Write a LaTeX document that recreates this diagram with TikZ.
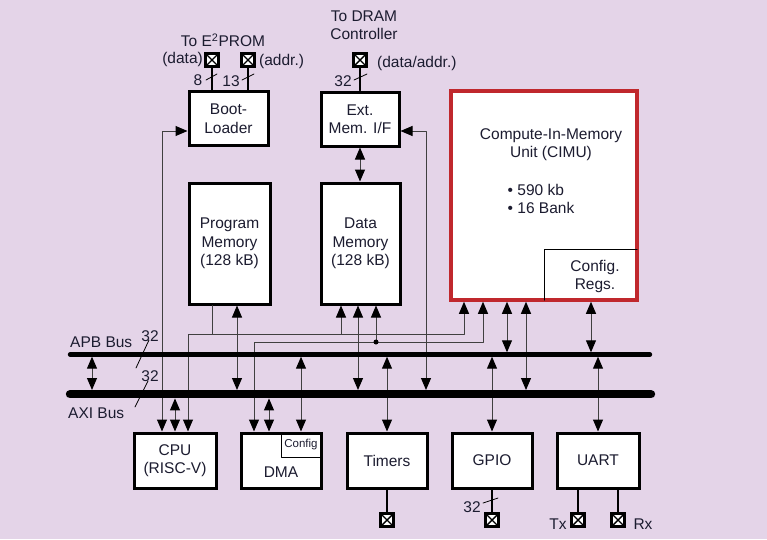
\documentclass[tikz,border=0pt]{standalone}
\usepackage{fontspec}
\setmainfont{Liberation Sans}
\usetikzlibrary{arrows.meta}
\definecolor{bgpurple}{RGB}{228,212,232}
\definecolor{cimured}{RGB}{192,40,45}
\definecolor{inkblue}{RGB}{28,28,48}

\begin{document}
\begin{tikzpicture}[x=1pt, y=-1pt, line cap=round, line join=round]
  \tikzset{
    block/.style={draw=black, line width=3pt, line join=miter, fill=white, inner sep=0pt, align=center, text=inkblue, font=\fontsize{15.5pt}{18.5pt}\selectfont},
    lbl/.style={inner sep=0pt, align=center, text=inkblue, font=\fontsize{15.5pt}{18pt}\selectfont},
    small/.style={inner sep=0pt, text=inkblue, font=\fontsize{11.5pt}{13pt}\selectfont},
    wire/.style={line width=1pt, draw=black!75},
    arr/.style={wire, -{Triangle[length=12pt, width=10pt, color=black]}},
    biarr/.style={wire, {Triangle[length=12pt, width=10pt, color=black]}-{Triangle[length=12pt, width=10pt, color=black]}},
    pinwire/.style={line width=1.5pt, draw=black},
    slash/.style={line width=0.8pt, draw=black},
    bus/.style={draw=black, line cap=round},
    pin/.style={draw=black, line width=3pt, line join=miter, fill=white, minimum size=12.5pt, inner sep=0pt,
      path picture={\draw[line width=1.4pt, black] (path picture bounding box.north west) -- (path picture bounding box.south east)
        (path picture bounding box.north east) -- (path picture bounding box.south west);}}
  }

  % Canvas
  \useasboundingbox (0,0) rectangle (767,539);
  \fill[bgpurple] (0,0) rectangle (767,539);

  % Bus edges
  \coordinate (apbT) at (0,352.3);
  \coordinate (apbB) at (0,356.7);
  \coordinate (axiT) at (0,390);
  \coordinate (axiB) at (0,398.4);

  % Boot-Loader and external memory interface
  \node[block, minimum width=79pt, minimum height=54pt] (boot) at (228.5,118.5) {Boot-\\Loader};
  \node[block, minimum width=78pt, minimum height=54pt] (emif) at (360,119) {Ext.\\Mem. I/F};

  % Memories
  \node[block, minimum width=81pt, minimum height=121pt] (pm) at (229.5,243.5) {Program\\Memory\\(128 kB)};
  \node[block, minimum width=79pt, minimum height=121pt] (dm) at (360.5,243.5) {Data\\Memory\\(128 kB)};

  % Compute-In-Memory Unit
  \node[block, draw=cimured, line width=3.5pt, minimum width=186pt, minimum height=209pt] (cimu) at (544,195.5) {};
  \node[lbl] (cimutitle) at (551,145) {Compute-In-Memory\\Unit (CIMU)};
  \node[lbl, align=left] (cimuspec) at (541,199) {\textbullet\ 590 kb\\\textbullet\ 16 Bank};
  \node[minimum width=92pt, minimum height=50pt, inner sep=0pt] (cfg) at (591,275) {};
  \draw[line width=1pt] (cfg.south west) |- (cfg.north east);
  \node[lbl] (cfgtext) at (595,276) {Config.\\Regs.};

  % Peripherals
  \node[block, minimum width=82pt, minimum height=55pt] (cpu) at (175,460.5) {CPU\\(RISC-V)};
  \node[block, minimum width=80pt, minimum height=55pt] (dma) at (281,460.5) {};
  \node[lbl] (dmatext) at (281,472) {DMA};
  \node[small, draw=black, line width=1pt, minimum width=40pt, minimum height=24pt] (dmacfg) at (301,445) {Config};
  \node[block, minimum width=80pt, minimum height=55pt] (timers) at (387,460.5) {Timers};
  \node[block, minimum width=80pt, minimum height=55pt] (gpio) at (492,460.5) {GPIO};
  \node[block, minimum width=82pt, minimum height=55pt] (uart) at (598,460.5) {UART};

  % Pins
  \node[pin] (eedata) at (212,60) {};
  \node[pin] (eeaddr) at (248,60) {};
  \node[pin] (dram) at (360,60) {};
  \node[pin] (tmrpin) at (387,520) {};
  \node[pin] (gpiopin) at (492,520) {};
  \node[pin] (txpin) at (578,520) {};
  \node[pin] (rxpin) at (618,520) {};

  % Pin labels
  \node[lbl] (eelbl) at (223,40) {To E\textsuperscript{2}PROM};
  \node[lbl, anchor=east] (datalbl) at (203,59) {(data)};
  \node[lbl, anchor=west] (addrlbl) at (259,61) {(addr.)};
  \node[lbl] (dramlbl) at (364,25) {To DRAM\\Controller};
  \node[lbl, anchor=west] (dalbl) at (377,63) {(data/addr.)};
  \node[lbl] (txlbl) at (558,524) {Tx};
  \node[lbl] (rxlbl) at (643,524) {Rx};

  % Pin wires with widths
  \draw[pinwire] (eedata) -- (boot.north -| eedata);
  \draw[pinwire] (eeaddr) -- (boot.north -| eeaddr);
  \draw[pinwire] (dram) -- (emif.north -| dram);
  \draw[pinwire] (timers.south) -- (tmrpin);
  \draw[pinwire] (gpio.south) -- (gpiopin);
  \draw[pinwire] (uart.south -| txpin) -- (txpin);
  \draw[pinwire] (uart.south -| rxpin) -- (rxpin);
  \draw[slash] (206,80) -- (217,74);
  \draw[slash] (242,80) -- (254,74);
  \draw[slash] (354,80) -- (367,74);
  \draw[slash] (483,503) -- (498,498);
  \node[lbl] (w8) at (198,80) {8};
  \node[lbl] (w13) at (231,81) {13};
  \node[lbl] (w32dram) at (343,81) {32};
  \node[lbl] (w32gpio) at (472,507) {32};

  % Boot-Loader and Ext. Mem. I/F links
  \draw[biarr] (cpu.north -| 162,0) |- (boot.west |- 0,131);
  \draw[biarr] (emif.east |- 0,131) -| (axiT -| 426,0);
  \draw[biarr] (emif.south) -- (dm.north -| emif.south);

  % Program memory links
  \draw[biarr] (pm.south -| 237,0) -- (axiT -| 237,0);
  \coordinate (pmj) at (212,334);
  \draw[wire] (pm.south -| pmj) -- (pmj);
  \draw[arr] (pmj) -| (cpu.north -| 188,0);
  \draw[arr] (pmj) -| (cimu.south -| 464,0);
  \draw[arr] (pmj -| 341,0) -- (dm.south -| 341,0);

  % Data memory links
  \draw[biarr] (dm.south -| 358,0) -- (axiT -| 358,0);
  \coordinate (dmj) at (376,342);
  \draw[arr] (dmj) -| (dma.north -| 254,0);
  \draw[arr] (dmj) -| (cimu.south -| 483,0);
  \draw[arr] (dmj) -- (dm.south -| dmj);
  \fill (dmj) circle (2.5pt);

  % CIMU links
  \draw[biarr] (cimu.south -| 507,0) -- (apbT -| 507,0);
  \draw[biarr] (cimu.south -| 526,0) -- (axiT -| 526,0);
  \draw[biarr] (cimu.south -| 591,0) -- (apbT -| 591,0);

  % Bus bridge and peripheral links
  \draw[biarr] (apbB -| 92,0) -- (axiT -| 92,0);
  \draw[biarr] (axiB -| 175,0) -- (cpu.north -| 175,0);
  \draw[biarr] (axiB -| 269,0) -- (dma.north -| 269,0);
  \draw[biarr] (apbB -| 301,0) -- (dma.north -| 301,0);
  \draw[biarr] (apbB -| timers.north) -- (timers.north);
  \draw[biarr] (apbB -| gpio.north) -- (gpio.north);
  \draw[biarr] (apbB -| uart.north) -- (uart.north);

  % APB and AXI buses
  \draw[bus, line width=4.4pt] (70,354.5) -- (650,354.5);
  \draw[bus, line width=8.4pt] (70,394.2) -- (651,394.2);
  \node[lbl, anchor=west] (apblbl) at (70,342) {APB Bus};
  \node[lbl, anchor=west] (axilbl) at (68,413) {AXI Bus};
  \draw[slash] (136,368) -- (149,340);
  \draw[slash] (135,407) -- (148,381);
  \node[lbl] (w32apb) at (150,336) {32};
  \node[lbl] (w32axi) at (150,376) {32};

\end{tikzpicture}
\end{document}
